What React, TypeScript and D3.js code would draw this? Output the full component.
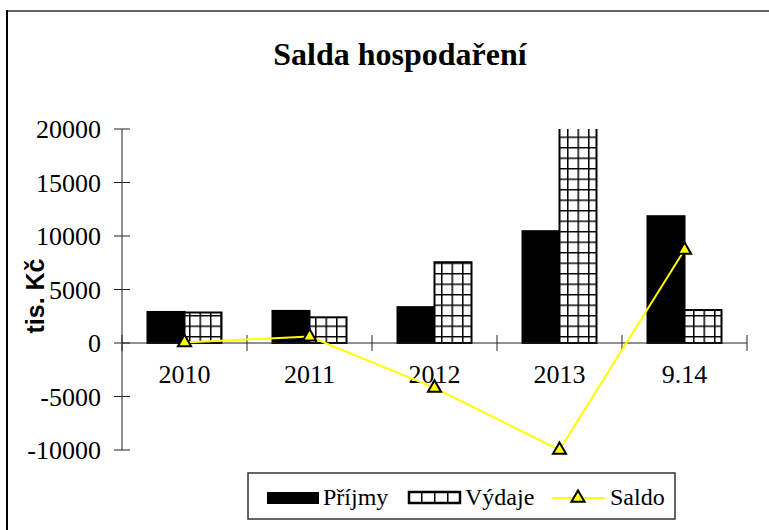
import React, { useEffect, useRef } from "react";
import * as d3 from "d3";

const categories = ["2010", "2011", "2012", "2013", "9.14"];
const prijmy = [2900, 3000, 3350, 10450, 11850];
const vydaje = [2850, 2400, 7550, 20450, 3080];
const saldo = [50, 600, -4200, -10000, 8700];
const yTicks = [-10000, -5000, 0, 5000, 10000, 15000, 20000];

const serif = "'Liberation Serif', 'Times New Roman', serif";
const sans = "'Liberation Sans', Arial, sans-serif";

export default function App() {
  const ref = useRef<SVGSVGElement>(null);

  useEffect(() => {
    const svg = d3.select(ref.current);
    svg.selectAll("*").remove();

    const x = d3.scaleBand().domain(categories).range([122, 747]).paddingInner(0.408).paddingOuter(0.204);
    const xSub = d3.scaleBand().domain(["p", "v"]).range([0, x.bandwidth()]);
    const y = d3.scaleLinear().domain([-10000, 20000]).range([450, 129]);

    const defs = svg.append("defs");
    const grid = defs.append("pattern").attr("id", "grid").attr("patternUnits", "userSpaceOnUse")
      .attr("width", 10.5).attr("height", 10.5);
    grid.append("rect").attr("width", 10.5).attr("height", 10.5).attr("fill", "#fff");
    grid.append("path").attr("d", "M0,0.75H10.5M0.75,0V10.5").attr("stroke", "#000").attr("stroke-width", 1.5);

    const gridLegend = defs.append("pattern").attr("id", "gridLegend").attr("patternUnits", "userSpaceOnUse")
      .attr("width", 13).attr("height", 40).attr("x", 408);
    gridLegend.append("rect").attr("width", 13).attr("height", 40).attr("fill", "#fff");
    gridLegend.append("path").attr("d", "M0.75,0V40").attr("stroke", "#000").attr("stroke-width", 1.5);

    defs.append("clipPath").attr("id", "plotClip").append("rect")
      .attr("x", 122).attr("y", y(20000)).attr("width", 625).attr("height", y(-10000) - y(20000));

    // frame
    svg.append("line").attr("x1", 7).attr("x2", 769).attr("y1", 11).attr("y2", 11).attr("stroke", "#666").attr("stroke-width", 2);
    svg.append("line").attr("x1", 7).attr("x2", 7).attr("y1", 10).attr("y2", 530).attr("stroke", "#000").attr("stroke-width", 2);

    // title
    svg.append("text").attr("x", 400).attr("y", 65).attr("text-anchor", "middle")
      .attr("font-family", serif).attr("font-weight", "bold").attr("font-size", 32).text("Salda hospodaření");

    // y axis
    svg.append("line").attr("x1", 122).attr("x2", 122).attr("y1", y(20000)).attr("y2", y(-10000)).attr("stroke", "#222");
    const yt = svg.append("g").selectAll("g").data(yTicks).join("g");
    yt.append("line").attr("x1", 114).attr("x2", 130).attr("y1", d => y(d)).attr("y2", d => y(d)).attr("stroke", "#222");
    yt.append("text").attr("x", 101).attr("y", d => y(d)).attr("dy", "0.35em").attr("text-anchor", "end")
      .attr("font-family", serif).attr("font-size", 26).text(d => d);

    svg.append("text").attr("transform", "translate(44,296) rotate(-90)").attr("text-anchor", "middle")
      .attr("font-family", sans).attr("font-weight", "bold").attr("font-size", 25).text("tis. Kč");

    // bars
    const bars = svg.append("g").attr("clip-path", "url(#plotClip)");
    bars.selectAll("rect.p").data(categories).join("rect").attr("class", "p")
      .attr("x", d => x(d)! + xSub("p")!).attr("width", xSub.bandwidth())
      .attr("y", (d, i) => y(prijmy[i])).attr("height", (d, i) => y(0) - y(prijmy[i]))
      .attr("fill", "#000").attr("stroke", "#000").attr("stroke-width", 2);
    bars.selectAll("rect.v").data(categories).join("rect").attr("class", "v")
      .attr("x", d => x(d)! + xSub("v")!).attr("width", xSub.bandwidth())
      .attr("y", (d, i) => y(vydaje[i])).attr("height", (d, i) => y(0) - y(vydaje[i]))
      .attr("fill", "url(#grid)").attr("stroke", "#000").attr("stroke-width", 2);

    // x axis
    svg.append("line").attr("x1", 122).attr("x2", 747).attr("y1", y(0)).attr("y2", y(0)).attr("stroke", "#222");
    const bounds = d3.range(categories.length + 1).map(i => 122 + i * x.step());
    svg.append("g").selectAll("line").data(bounds).join("line")
      .attr("x1", d => d).attr("x2", d => d).attr("y1", y(0) - 8).attr("y2", y(0) + 8).attr("stroke", "#222");
    svg.append("g").selectAll("text").data(categories).join("text")
      .attr("x", d => x(d)! + x.bandwidth() / 2).attr("y", 383).attr("text-anchor", "middle")
      .attr("font-family", serif).attr("font-size", 26).text(d => d);

    // saldo line
    const cx = (i: number) => x(categories[i])! + x.bandwidth() / 2;
    const line = d3.line<number>().x((d, i) => cx(i)).y(d => y(d));
    svg.append("path").attr("d", line(saldo)).attr("fill", "none").attr("stroke", "#ffff00").attr("stroke-width", 2);
    const tri = d3.symbol().type(d3.symbolTriangle).size(75);
    svg.append("g").selectAll("path").data(saldo).join("path")
      .attr("transform", (d, i) => `translate(${cx(i)},${y(d)})`).attr("d", tri())
      .attr("fill", "#ffff00").attr("stroke", "#000").attr("stroke-width", 2);

    // legend
    const lg = svg.append("g");
    lg.append("rect").attr("x", 248).attr("y", 473).attr("width", 427).attr("height", 46)
      .attr("fill", "#fff").attr("stroke", "#333").attr("stroke-width", 1.5);
    lg.append("rect").attr("x", 267).attr("y", 492).attr("width", 52).attr("height", 12).attr("fill", "#000");
    lg.append("text").attr("x", 323).attr("y", 505).attr("font-family", serif).attr("font-size", 24).text("Příjmy");
    lg.append("rect").attr("x", 409).attr("y", 492).attr("width", 51).attr("height", 11)
      .attr("fill", "url(#gridLegend)").attr("stroke", "#000").attr("stroke-width", 2.5);
    lg.append("text").attr("x", 465).attr("y", 505).attr("font-family", serif).attr("font-size", 24).text("Výdaje");
    lg.append("line").attr("x1", 552).attr("x2", 605).attr("y1", 498).attr("y2", 498).attr("stroke", "#ffff00").attr("stroke-width", 2);
    lg.append("path").attr("transform", "translate(578,498)").attr("d", tri())
      .attr("fill", "#ffff00").attr("stroke", "#000").attr("stroke-width", 2);
    lg.append("text").attr("x", 610).attr("y", 505).attr("font-family", serif).attr("font-size", 24).text("Saldo");
  }, []);

  return (
    <div style={{ position: "absolute", left: 0, top: 0 }}>
      <svg ref={ref} width={769} height={530} style={{ display: "block", background: "#fff" }} />
    </div>
  );
}
